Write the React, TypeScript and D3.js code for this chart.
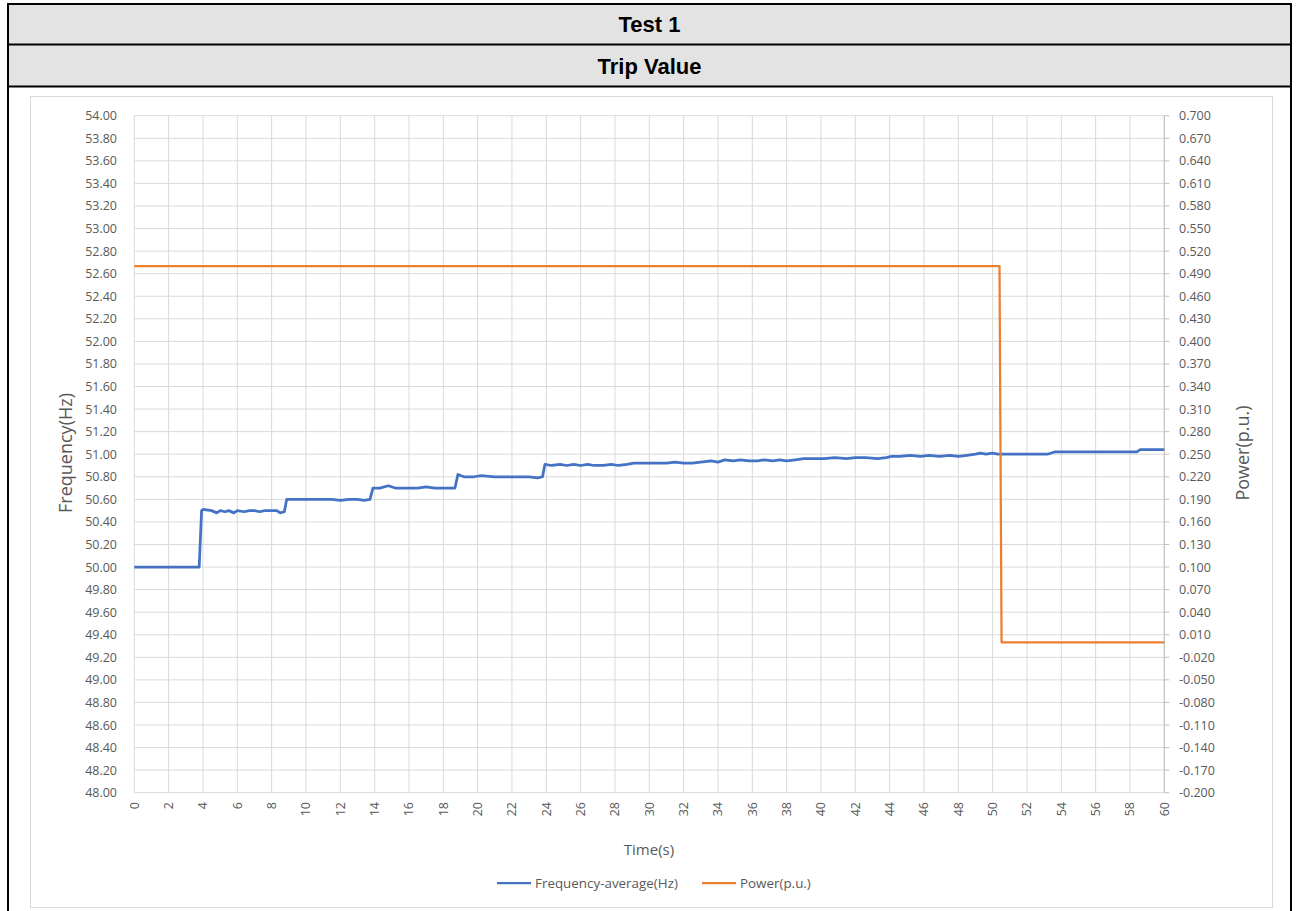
import React, { useEffect, useRef } from 'react';
import * as d3 from 'd3';

// chart data
const headerRows = ['Test 1', 'Trip Value'];
const xTicks = d3.range(0, 61, 2);
const freqTicks = [48.0, 48.2, 48.4, 48.6, 48.8, 49.0, 49.2, 49.4, 49.6, 49.8, 50.0, 50.2, 50.4, 50.6, 50.8, 51.0,
  51.2, 51.4, 51.6, 51.8, 52.0, 52.2, 52.4, 52.6, 52.8, 53.0, 53.2, 53.4, 53.6, 53.8, 54.0];
const powerTicks = [-0.2, -0.17, -0.14, -0.11, -0.08, -0.05, -0.02, 0.01, 0.04, 0.07, 0.1, 0.13, 0.16, 0.19, 0.22,
  0.25, 0.28, 0.31, 0.34, 0.37, 0.4, 0.43, 0.46, 0.49, 0.52, 0.55, 0.58, 0.61, 0.64, 0.67, 0.7];

const freqTime = [0, 1, 2, 3, 3.78, 3.92, 4.0, 4.5, 4.8, 5.0, 5.3, 5.5, 5.8, 6.0, 6.4, 6.7, 7.0, 7.3, 7.6, 8.0, 8.3, 8.5,
  8.74, 8.88, 9.2, 10, 10.8, 11.5, 12.0, 12.5, 13.0, 13.4, 13.73, 13.9, 14.3, 14.8, 15.2, 16, 16.5, 17.0, 17.5, 18.0,
  18.68, 18.85, 19.2, 19.8, 20.2, 21, 21.6, 22.2, 23.0, 23.5, 23.78, 23.92, 24.3, 24.8, 25.2, 25.6, 26.0, 26.4, 26.8,
  27.3, 27.8, 28.2, 28.7, 29.1, 29.8, 30.3, 31, 31.5, 32.0, 32.5, 33.0, 33.6, 34.0, 34.4, 34.9, 35.3, 35.8, 36.3, 36.7,
  37.2, 37.6, 38.0, 38.5, 39.0, 39.5, 40.2, 40.8, 41.5, 42.0, 42.6, 43.3, 43.8, 44.1, 44.6, 45.2, 45.8, 46.3, 46.9,
  47.5, 48.0, 48.5, 49.0, 49.3, 49.6, 50.0, 50.3, 50.6, 51.5, 52.3, 53.2, 53.6, 54.5, 55.5, 56.5, 57.5, 58.4, 58.6,
  59.3, 60];
const freqValue = [50.0, 50.0, 50.0, 50.0, 50.0, 50.5, 50.51, 50.5, 50.48, 50.5, 50.49, 50.5, 50.48, 50.5, 50.49, 50.5,
  50.5, 50.49, 50.5, 50.5, 50.5, 50.48, 50.49, 50.6, 50.6, 50.6, 50.6, 50.6, 50.59, 50.6, 50.6, 50.59, 50.6, 50.7,
  50.7, 50.72, 50.7, 50.7, 50.7, 50.71, 50.7, 50.7, 50.7, 50.82, 50.8, 50.8, 50.81, 50.8, 50.8, 50.8, 50.8, 50.79,
  50.8, 50.91, 50.9, 50.91, 50.9, 50.91, 50.9, 50.91, 50.9, 50.9, 50.91, 50.9, 50.91, 50.92, 50.92, 50.92, 50.92,
  50.93, 50.92, 50.92, 50.93, 50.94, 50.93, 50.95, 50.94, 50.95, 50.94, 50.94, 50.95, 50.94, 50.95, 50.94, 50.95,
  50.96, 50.96, 50.96, 50.97, 50.96, 50.97, 50.97, 50.96, 50.97, 50.98, 50.98, 50.99, 50.98, 50.99, 50.98, 50.99,
  50.98, 50.99, 51.0, 51.01, 51.0, 51.01, 51.0, 51.0, 51.0, 51.0, 51.0, 51.02, 51.02, 51.02, 51.02, 51.02, 51.02,
  51.04, 51.04, 51.04];

const powerTime = [0, 50.4, 50.52, 60];
const powerValue = [0.5, 0.5, 0.0, 0.0];

const seriesNames = ['Frequency-average(Hz)', 'Power(p.u.)'];
const seriesColors = ['#4472C4', '#ED7D31'];

export default function App() {
  const svgRef = useRef<SVGSVGElement>(null);

  useEffect(() => {
    const width = 1296;
    const height = 911;
    const svg = d3.select(svgRef.current);
    svg.selectAll('*').remove();
    svg.attr('width', width).attr('height', height);

    const font = '"Open Sans", sans-serif';
    const textColor = '#595959';

    // table header
    const tableLeft = 8, tableRight = 1291;
    const rowTops = [4, 44.5, 86.5];
    headerRows.forEach((t, i) => {
      svg.append('rect').attr('x', tableLeft).attr('y', rowTops[i])
        .attr('width', tableRight - tableLeft).attr('height', rowTops[i + 1] - rowTops[i])
        .attr('fill', '#e3e3e3');
      svg.append('text').attr('x', (tableLeft + tableRight) / 2).attr('y', (rowTops[i] + rowTops[i + 1]) / 2 + 8)
        .attr('text-anchor', 'middle').attr('font-family', '"Liberation Sans", Arial, sans-serif')
        .attr('font-weight', 'bold').attr('font-size', 22).attr('fill', '#000').text(t);
    });
    [rowTops[0], rowTops[1], rowTops[2]].forEach(y => {
      svg.append('line').attr('x1', tableLeft - 1).attr('x2', tableRight + 1).attr('y1', y).attr('y2', y)
        .attr('stroke', '#000').attr('stroke-width', 2);
    });
    svg.append('line').attr('x1', tableLeft).attr('x2', tableLeft).attr('y1', 3).attr('y2', height)
      .attr('stroke', '#000').attr('stroke-width', 2);
    svg.append('line').attr('x1', tableRight).attr('x2', tableRight).attr('y1', 3).attr('y2', height)
      .attr('stroke', '#000').attr('stroke-width', 2);

    // chart frame
    svg.append('rect').attr('x', 30.5).attr('y', 96.5).attr('width', 1242).attr('height', 811)
      .attr('fill', '#fff').attr('stroke', '#d9d9d9').attr('stroke-width', 1);

    const left = 134.3, right = 1164.3, top = 115.7, bottom = 792.7;
    const x = d3.scaleLinear().domain([0, 60]).range([left, right]);
    const yF = d3.scaleLinear().domain([48, 54]).range([bottom, top]);
    const yP = d3.scaleLinear().domain([-0.2, 0.7]).range([bottom, top]);

    // grid
    const grid = svg.append('g');
    xTicks.forEach(t => {
      grid.append('line').attr('x1', x(t)).attr('x2', x(t)).attr('y1', top).attr('y2', bottom)
        .attr('stroke', '#d9d9d9').attr('stroke-width', 1);
    });
    freqTicks.forEach(t => {
      grid.append('line').attr('x1', left).attr('x2', right).attr('y1', yF(t)).attr('y2', yF(t))
        .attr('stroke', '#d9d9d9').attr('stroke-width', 1);
    });

    // right axis line with outward ticks
    svg.append('line').attr('x1', right).attr('x2', right).attr('y1', top).attr('y2', bottom)
      .attr('stroke', '#bfbfbf');
    powerTicks.forEach(t => {
      svg.append('line').attr('x1', right).attr('x2', right + 5).attr('y1', yP(t)).attr('y2', yP(t))
        .attr('stroke', '#bfbfbf');
    });

    // left labels
    svg.append('g').selectAll('text').data(freqTicks).enter().append('text')
      .attr('x', 117).attr('y', d => yF(d) + 4.5).attr('text-anchor', 'end')
      .attr('font-family', font).attr('font-size', 12.5).attr('fill', textColor)
      .text(d => d.toFixed(2));

    // right labels
    svg.append('g').selectAll('text').data(powerTicks).enter().append('text')
      .attr('x', 1179).attr('y', d => yP(d) + 4.5).attr('text-anchor', 'start')
      .attr('font-family', font).attr('font-size', 12.5).attr('fill', textColor)
      .text(d => (Math.abs(d) < 1e-9 ? 0 : d).toFixed(3));

    // x labels rotated
    svg.append('g').selectAll('text').data(xTicks).enter().append('text')
      .attr('transform', d => `translate(${x(d) + 4.5},802) rotate(-90)`)
      .attr('text-anchor', 'end')
      .attr('font-family', font).attr('font-size', 12.5).attr('fill', textColor)
      .text(d => String(d));

    // axis titles
    svg.append('text').attr('x', 649).attr('y', 855).attr('text-anchor', 'middle')
      .attr('font-family', font).attr('font-size', 15).attr('fill', textColor).text('Time(s)');
    svg.append('text').attr('transform', 'translate(72,453) rotate(-90)').attr('text-anchor', 'middle')
      .attr('font-family', font).attr('font-size', 18).attr('fill', textColor).text('Frequency(Hz)');
    svg.append('text').attr('transform', 'translate(1249,453) rotate(-90)').attr('text-anchor', 'middle')
      .attr('font-family', font).attr('font-size', 18).attr('fill', textColor).text('Power(p.u.)');

    // series
    const freqLine = d3.line<number>().x((d, i) => x(freqTime[i])).y(d => yF(d));
    svg.append('path').attr('d', freqLine(freqValue)).attr('fill', 'none')
      .attr('stroke', seriesColors[0]).attr('stroke-width', 2.75).attr('stroke-linejoin', 'round');

    const powerLine = d3.line<number>().x((d, i) => x(powerTime[i])).y(d => yP(d));
    svg.append('path').attr('d', powerLine(powerValue)).attr('fill', 'none')
      .attr('stroke', seriesColors[1]).attr('stroke-width', 2.25).attr('stroke-linejoin', 'round');

    // legend
    const legendX = [497, 702];
    seriesNames.forEach((name, i) => {
      svg.append('line').attr('x1', legendX[i]).attr('x2', legendX[i] + 34).attr('y1', 883).attr('y2', 883)
        .attr('stroke', seriesColors[i]).attr('stroke-width', 2.25);
      svg.append('text').attr('x', legendX[i] + 38).attr('y', 887.5)
        .attr('font-family', font).attr('font-size', 13.4).attr('fill', textColor).text(name);
    });
  }, []);

  return (
    <div style={{ position: 'absolute', left: 0, top: 0 }}>
      <svg ref={svgRef}></svg>
    </div>
  );
}
